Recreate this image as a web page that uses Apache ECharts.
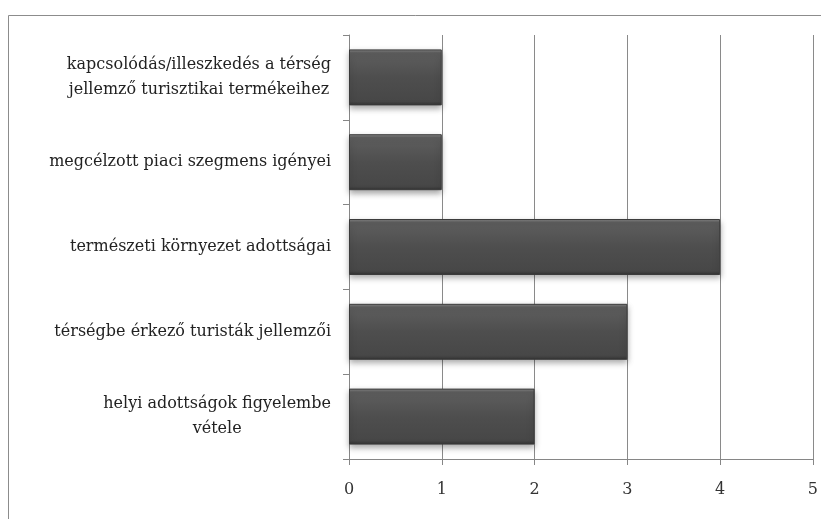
<!DOCTYPE html>
<html>
<head>
<meta charset="utf-8">
<script src="https://cdn.jsdelivr.net/npm/echarts@6/dist/echarts.min.js"></script>
<style>
  html, body { margin: 0; padding: 0; background: #fff; }
  #chart { width: 821px; height: 519px; }
</style>
</head>
<body>
<div id="chart"></div>
<script>
// categories from bottom to top, as the axis draws them
var categories = [
  'helyi adottságok figyelembe\nvétele',
  'térségbe érkező turisták jellemzői',
  'természeti környezet adottságai',
  'megcélzott piaci szegmens igényei',
  'kapcsolódás/illeszkedés a térség\njellemző turisztikai termékeihez'
]
var values = [2, 3, 4, 1, 1]
var xTicks = [0, 1, 2, 3, 4, 5]

var serif = '"DejaVu Serif", "Liberation Serif", serif'
var chart = echarts.init(document.getElementById('chart'))

var option = {
  backgroundColor: '#fff',
  animation: false,
  graphic: [
    { // outer frame
      type: 'rect',
      shape: { x: 8.5, y: 15.5, width: 900, height: 600 },
      style: { fill: 'none', stroke: '#8c8c8c', lineWidth: 1 },
      silent: true
    }
  ],
  grid: {
    left: 349,
    right: 5,
    top: 35,
    bottom: 60
  },
  xAxis: {
    type: 'value',
    min: xTicks[0],
    max: xTicks[xTicks.length - 1],
    interval: 1,
    axisLine: { show: true, lineStyle: { color: '#868686' }},
    axisTick: { show: true, length: 6, lineStyle: { color: '#868686' }},
    axisLabel: {
      margin: 23,
      fontFamily: serif,
      fontSize: 16,
      color: '#333'
    },
    splitLine: { show: true, lineStyle: { color: '#8a8a8a', width: 1 }}
  },
  yAxis: {
    type: 'category',
    data: categories,
    axisLine: { show: true, lineStyle: { color: '#868686' }},
    axisTick: { show: true, length: 6, lineStyle: { color: '#868686' }},
    axisLabel: {
      margin: 18,
      formatter: function(val) {
        // each line centred inside the right-aligned block
        return val.split('\n').map(function(l) { return '{c|' + l + '}' }).join('\n')
      },
      rich: {
        c: {
          align: 'center',
          fontFamily: serif,
          fontSize: 16,
          lineHeight: 25,
          color: '#222'
        }
      }
    },
    splitLine: { show: false }
  },
  series: [
    {
      type: 'bar',
      data: values,
      barCategoryGap: '34%',
      itemStyle: {
        color: {
          type: 'linear',
          x: 0, y: 0, x2: 0, y2: 1,
          colorStops: [
            { offset: 0, color: '#8a8a8a' },
            { offset: 0.06, color: '#5e5e5e' },
            { offset: 0.5, color: '#4e4e4e' },
            { offset: 0.93, color: '#474747' },
            { offset: 1, color: '#333' }
          ]
        },
        borderColor: '#3a3a3a',
        borderWidth: 1,
        shadowColor: 'rgba(0,0,0,0.35)',
        shadowBlur: 6,
        shadowOffsetY: 3
      }
    }
  ]
}

chart.setOption(option)
</script>
</body>
</html>
